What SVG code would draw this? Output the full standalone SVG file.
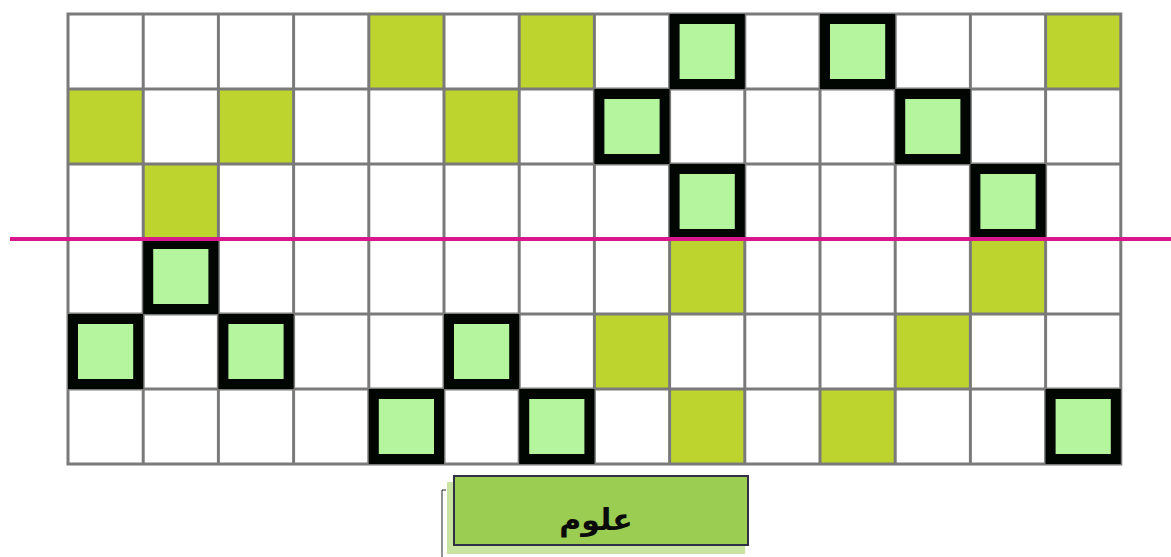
<svg xmlns="http://www.w3.org/2000/svg" width="1171" height="557" viewBox="0 0 1171 557">
<style>
.yg{fill:#bdd42f}
.bx{fill:#b5f59e;stroke:#020603;stroke-width:10}
.gl{stroke:#7a7a7a;stroke-width:3;fill:none}
</style>
<rect width="1171" height="557" fill="#ffffff"/>
<g id="grid-fills">
<rect class="yg" x="368.8" y="14" width="75.2" height="75"/>
<rect class="yg" x="519.2" y="14" width="75.2" height="75"/>
<rect class="yg" x="1045.6" y="14" width="75.2" height="75"/>
<rect class="yg" x="68" y="89" width="75.2" height="75"/>
<rect class="yg" x="218.4" y="89" width="75.2" height="75"/>
<rect class="yg" x="444" y="89" width="75.2" height="75"/>
<rect class="yg" x="143.2" y="164" width="75.2" height="75"/>
<rect class="yg" x="669.6" y="239" width="75.2" height="75"/>
<rect class="yg" x="970.4" y="239" width="75.2" height="75"/>
<rect class="yg" x="594.4" y="314" width="75.2" height="75"/>
<rect class="yg" x="895.2" y="314" width="75.2" height="75"/>
<rect class="yg" x="669.6" y="389" width="75.2" height="75"/>
<rect class="yg" x="820" y="389" width="75.2" height="75"/>
</g>
<g id="grid-lines" class="gl">
<rect x="68" y="14" width="1052.8" height="450"/>
<path d="M143.2 14V464M218.4 14V464M293.6 14V464M368.8 14V464M444 14V464M519.2 14V464M594.4 14V464M669.6 14V464M744.8 14V464M820 14V464M895.2 14V464M970.4 14V464M1045.6 14V464"/>
<path d="M68 89H1120.8M68 164H1120.8M68 239H1120.8M68 314H1120.8M68 389H1120.8"/>
</g>
<g id="box-r0c8"><rect class="bx" x="674.6" y="19" width="65.2" height="65"/></g>
<g id="box-r0c10"><rect class="bx" x="825" y="19" width="65.2" height="65"/></g>
<g id="box-r1c7"><rect class="bx" x="599.4" y="94" width="65.2" height="65"/></g>
<g id="box-r1c11"><rect class="bx" x="900.2" y="94" width="65.2" height="65"/></g>
<g id="box-r2c8"><rect class="bx" x="674.6" y="169" width="65.2" height="65"/></g>
<g id="box-r2c12"><rect class="bx" x="975.4" y="169" width="65.2" height="65"/></g>
<g id="box-r3c1"><rect class="bx" x="148.2" y="244" width="65.2" height="65"/></g>
<g id="box-r4c0"><rect class="bx" x="73" y="319" width="65.2" height="65"/></g>
<g id="box-r4c2"><rect class="bx" x="223.4" y="319" width="65.2" height="65"/></g>
<g id="box-r4c5"><rect class="bx" x="449" y="319" width="65.2" height="65"/></g>
<g id="box-r5c4"><rect class="bx" x="373.8" y="394" width="65.2" height="65"/></g>
<g id="box-r5c6"><rect class="bx" x="524.2" y="394" width="65.2" height="65"/></g>
<g id="box-r5c13"><rect class="bx" x="1050.6" y="394" width="65.2" height="65"/></g>
<g id="divider">
<line x1="10" y1="239" x2="1171" y2="239" stroke="#d8178c" stroke-width="4"/>
</g>
<g id="label-button">
<path d="M442 557V490H446" fill="none" stroke="#222" stroke-width="1"/>
<rect x="447" y="482" width="298" height="72" fill="#c8e4a0"/>
<rect x="454" y="476" width="294" height="69" fill="#9acd52" stroke="#2f2f45" stroke-width="2"/>
<text x="596" y="530" text-anchor="middle" font-family="DejaVu Sans, sans-serif" font-weight="bold" font-size="30" fill="#0a0a0a">علوم</text>
</g>
</svg>
